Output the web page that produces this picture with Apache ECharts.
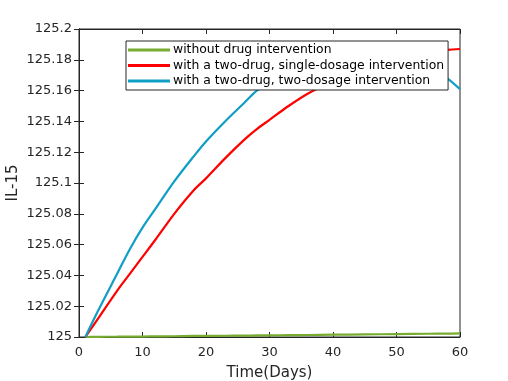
<!DOCTYPE html>
<html>
<head>
<meta charset="utf-8">
<script src="https://cdn.jsdelivr.net/npm/echarts@6/dist/echarts.min.js"></script>
<style>
  html, body { margin: 0; padding: 0; background: #fff; }
  #main { width: 508px; height: 381px; }
</style>
</head>
<body>
<div id="main"></div>
<script>
// time points (days)
const days = [1, 3, 6, 8, 10, 12, 15, 18, 20, 23, 26, 28, 30, 33, 36, 40, 45, 50, 55, 58, 60];

// IL-15 values
const noDrug = [125, 125.0001, 125.0002, 125.0003, 125.0003, 125.0004, 125.0005, 125.0007, 125.0007, 125.0008,
  125.0009, 125.001, 125.0011, 125.0012, 125.0013, 125.0015, 125.0017, 125.0019, 125.0021, 125.0022, 125.0023];
const singleDose = [125, 125.012, 125.030, 125.041, 125.052, 125.063, 125.080, 125.095, 125.103, 125.116,
  125.128, 125.135, 125.141, 125.150, 125.158, 125.166, 125.175, 125.181, 125.185, 125.1865, 125.187];
const twoDose = [125, 125.017, 125.041, 125.057, 125.071, 125.083, 125.101, 125.117, 125.127, 125.140,
  125.152, 125.160, 125.165, 125.172, 125.177, 125.182, 125.185, 125.183, 125.176, 125.168, 125.161];

const seriesNames = ['without drug intervention', 'with a two-drug, single-dosage intervention', 'with a two-drug, two-dosage intervention'];
const seriesColors = ['#77ac30', '#ff0000', '#0f9ec4'];

const pairs = (ys) => days.map((d, i) => [d, ys[i]]);
const allData = [noDrug, singleDose, twoDose];

const fmtY = v => String(Number(v.toFixed(2)));
const axisColor = '#262626';
const font = 'DejaVu Sans';

let chart = echarts.init(document.getElementById('main'), null, { renderer: 'canvas' });

const option = {
  animation: false,
  textStyle: { fontFamily: font },
  grid: {
    left: 79, right: 48, top: 29, bottom: 44,
    outerBoundsMode: 'none', containLabel: false,
    show: true, borderColor: axisColor, borderWidth: 1, backgroundColor: '#fff'
  },
  legend: {
    orient: 'vertical',
    left: 126, top: 41,
    z: 20,
    backgroundColor: '#fff',
    borderColor: axisColor, borderWidth: 1, borderRadius: 0,
    padding: [3, 4, 3, 2],
    itemWidth: 42, itemHeight: 3, itemGap: 3.5,
    icon: 'rect',
    textStyle: { fontFamily: font, fontSize: 12.4, color: '#000', padding: [0, 0, 0, -2] },
    data: seriesNames
  },
  xAxis: [{
    type: 'value', min: 0, max: 60, interval: 10,
    name: 'Time(Days)', nameLocation: 'middle', nameGap: 29, nameMoveOverlap: false,
    nameTextStyle: { fontFamily: font, fontSize: 15, color: axisColor },
    axisLine: { show: true, lineStyle: { color: axisColor } },
    axisTick: { show: true, inside: true, length: 5, lineStyle: { color: axisColor } },
    axisLabel: { fontFamily: font, fontSize: 13, color: axisColor, margin: 9 },
    splitLine: { show: false }
  }, {
    type: 'value', position: 'top', min: 0, max: 60, interval: 10,
    axisLine: { show: true, lineStyle: { color: axisColor } },
    axisTick: { show: true, inside: true, length: 5, lineStyle: { color: axisColor } },
    axisLabel: { show: false }, splitLine: { show: false }
  }],
  yAxis: [{
    type: 'value', min: 125, max: 125.2, interval: 0.02,
    name: 'IL-15', nameLocation: 'middle', nameGap: 58, nameMoveOverlap: false,
    nameTextStyle: { fontFamily: font, fontSize: 15, color: axisColor },
    axisLine: { show: true, lineStyle: { color: axisColor } },
    axisTick: { show: true, inside: true, length: 5, lineStyle: { color: axisColor } },
    axisLabel: { fontFamily: font, fontSize: 13, color: axisColor, margin: 7, formatter: fmtY },
    splitLine: { show: false }
  }, {
    type: 'value', position: 'right', min: 125, max: 125.2, interval: 0.02,
    axisLine: { show: true, lineStyle: { color: axisColor } },
    axisTick: { show: true, inside: true, length: 5, lineStyle: { color: axisColor } },
    axisLabel: { show: false }, splitLine: { show: false }
  }],
  series: seriesNames.map((name, i) => ({
    name: name,
    type: 'line',
    xAxisIndex: 0, yAxisIndex: 0,
    data: pairs(allData[i]),
    smooth: 0.3,
    showSymbol: false,
    color: seriesColors[i],
    lineStyle: { width: 2.2, color: seriesColors[i] }
  }))
};

chart.setOption(option);
</script>
</body>
</html>
